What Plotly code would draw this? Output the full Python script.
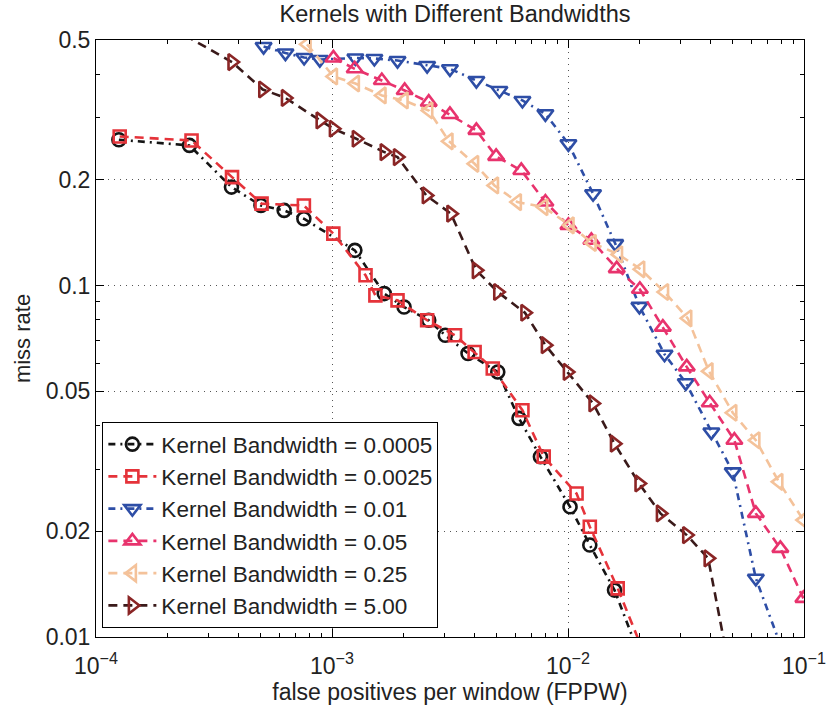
import plotly.graph_objects as go

# ---- data (x = FPPW, y = miss rate) ----
bw_labels = ["Kernel Bandwidth = 0.0005", "Kernel Bandwidth = 0.0025",
             "Kernel Bandwidth = 0.01", "Kernel Bandwidth = 0.05",
             "Kernel Bandwidth = 0.25", "Kernel Bandwidth = 5.00"]

x_0005 = [1.25e-4, 2.49e-4, 3.75e-4, 5.0e-4, 6.27e-4, 7.6e-4, 1.25e-3, 1.665e-3, 2.02e-3,
          2.57e-3, 3.02e-3, 3.77e-3, 5.04e-3, 6.2e-3, 7.64e-3, 1.02e-2, 1.237e-2, 1.574e-2, 2.046e-2]
y_0005 = [0.260, 0.2506, 0.1907, 0.169, 0.1637, 0.155, 0.126, 0.0949, 0.0869,
          0.0797, 0.0722, 0.0641, 0.0568, 0.0419, 0.0326, 0.02347, 0.01827, 0.0136, 0.0086]

x_0025 = [1.26e-4, 2.54e-4, 3.77e-4, 5.03e-4, 7.6e-4, 1.013e-3, 1.387e-3, 1.527e-3, 1.895e-3,
          2.53e-3, 3.32e-3, 4.02e-3, 4.8e-3, 6.41e-3, 7.89e-3, 1.087e-2, 1.237e-2, 1.624e-2, 2.156e-2]
y_0025 = [0.2658, 0.2588, 0.2036, 0.1711, 0.169, 0.1406, 0.107, 0.0938, 0.0908,
          0.0797, 0.0722, 0.0647, 0.0581, 0.0442, 0.0326, 0.0256, 0.0206, 0.01375, 0.0086]

x_001 = [5.13e-4, 6.35e-4, 7.62e-4, 8.88e-4, 1.256e-3, 1.512e-3, 1.895e-3, 2.53e-3, 3.16e-3,
         4.09e-3, 5.12e-3, 6.41e-3, 8.02e-3, 1.004e-2, 1.277e-2, 1.585e-2, 2.007e-2, 2.565e-2,
         3.155e-2, 4.05e-2, 4.99e-2, 6.25e-2, 8.39e-2]
y_001 = [0.479, 0.459, 0.446, 0.440, 0.4444, 0.443, 0.437, 0.423, 0.414,
         0.3834, 0.3592, 0.3365, 0.3083, 0.2533, 0.1826, 0.1317, 0.0873, 0.0638,
         0.0529, 0.0383, 0.0295, 0.01469, 0.0086]

x_005 = [1.014e-3, 1.248e-3, 1.626e-3, 2.032e-3, 2.57e-3, 3.16e-3, 4.09e-3, 4.96e-3, 6.34e-3,
         8.02e-3, 1.004e-2, 1.256e-2, 1.609e-2, 2.016e-2, 2.523e-2, 3.185e-2, 3.986e-2,
         5.07e-2, 6.25e-2, 7.94e-2, 9.94e-2]
y_005 = [0.4444, 0.414, 0.3834, 0.3592, 0.3327, 0.307, 0.2765, 0.2332, 0.2127,
         0.1729, 0.1484, 0.1346, 0.1118, 0.0976, 0.0762, 0.0587, 0.0464,
         0.0363, 0.02248, 0.01787, 0.01288]

x_025 = [7.84e-4, 1.014e-3, 1.256e-3, 1.629e-3, 2.02e-3, 2.57e-3, 3.13e-3, 4.02e-3, 4.88e-3,
         6.1e-3, 7.89e-3, 1.02e-2, 1.265e-2, 1.637e-2, 2.032e-2, 2.565e-2, 3.216e-2,
         3.955e-2, 4.99e-2, 6.25e-2, 7.82e-2, 9.94e-2]
y_025 = [0.486, 0.3937, 0.376, 0.3476, 0.3365, 0.315, 0.2575, 0.2222, 0.1928,
         0.1729, 0.1673, 0.1484, 0.1323, 0.1227, 0.1113, 0.0959, 0.0807,
         0.0571, 0.04347, 0.0363, 0.02764, 0.02151]

x_500 = [1.848e-4, 3.77e-4, 5.09e-4, 6.35e-4, 8.91e-4, 1.014e-3, 1.268e-3, 1.665e-3, 1.895e-3,
         2.51e-3, 3.19e-3, 4.09e-3, 5.04e-3, 6.57e-3, 8.02e-3, 9.94e-3, 1.277e-2,
         1.574e-2, 2.0e-2, 2.464e-2, 3.185e-2, 3.926e-2, 4.75e-2]
y_500 = [0.568, 0.4328, 0.3615, 0.342, 0.2951, 0.2795, 0.2618, 0.2399, 0.2321,
         0.1806, 0.1602, 0.1105, 0.0959, 0.0837, 0.0677, 0.0568, 0.0462,
         0.0355, 0.02735, 0.02248, 0.0195, 0.01674, 0.0086]

x_tickvals = [1e-4, 1e-3, 1e-2, 1e-1]
x_ticktext = ["10<sup>\u22124</sup>", "10<sup>\u22123</sup>", "10<sup>\u22122</sup>", "10<sup>\u22121</sup>"]
y_tickvals = [0.01, 0.02, 0.05, 0.1, 0.2, 0.5]
y_ticktext = ["0.01", "0.02", "0.05", "0.1", "0.2", "0.5"]

series = [
    (x_0005, y_0005, "#141414", "#141414", "circle-open", 13, "7px,5px,2px,5px"),
    (x_0025, y_0025, "#E5333A", "#E5333A", "square-open", 12, "9px,6px"),
    (x_001, y_001, "#2E4EA6", "#2E4EA6", "triangle-down-open", 14, "7px,5px,2px,5px"),
    (x_005, y_005, "#E8336D", "#E8336D", "triangle-up-open", 14, "9px,6px"),
    (x_025, y_025, "#F4C29A", "#F4C29A", "triangle-left-open", 14, "9px,6px"),
    (x_500, y_500, "#3A1A1A", "#8A2525", "triangle-right-open", 14, "9px,6px"),
]

FONT = "Liberation Sans, Arial, Helvetica, sans-serif"

fig = go.Figure()
for (xs, ys, lc, mc, sym, ms, dash), name in zip(series, bw_labels):
    fig.add_trace(go.Scatter(
        x=xs, y=ys, name=name, mode="lines+markers",
        line=dict(color=lc, width=2.6, dash=dash),
        marker=dict(symbol=sym, size=ms, color=mc, line=dict(color=mc, width=2.6)),
        cliponaxis=True,
    ))

axis_common = dict(
    type="log", showline=True, linecolor="black", linewidth=1, mirror="allticks",
    ticks="inside", ticklen=8, tickcolor="black", tickwidth=1,
    showgrid=True, gridcolor="#555555", gridwidth=1, griddash="1px,5px",
    zeroline=False, tickfont=dict(family=FONT, size=23, color="#222"),
)

fig.update_xaxes(
    **axis_common, range=[-4, -1], tickmode="array", tickvals=x_tickvals, ticktext=x_ticktext,
    ticklabelstandoff=8,
    minor=dict(ticks="inside", ticklen=4, tickcolor="black", dtick="D1", showgrid=False),
    title=dict(text="false positives per window (FPPW)", font=dict(family=FONT, size=23, color="#222"),
               standoff=2),
)
fig.update_yaxes(
    **axis_common, range=[-2, -0.30103], tickmode="array", tickvals=y_tickvals, ticktext=y_ticktext,
    minor=dict(ticks="inside", ticklen=4, tickcolor="black", dtick="D1", showgrid=False),
    title=dict(text="miss rate", font=dict(family=FONT, size=22, color="#222"), standoff=8),
)

fig.update_layout(
    width=838, height=711,
    margin=dict(l=96, r=24, t=40, b=74),
    paper_bgcolor="white", plot_bgcolor="white",
    title=dict(text="Kernels with Different Bandwidths", x=0.543, xanchor="center",
               y=0.981, yanchor="middle", yref="container",
               font=dict(family=FONT, size=23.5, color="#222")),
    legend=dict(x=0.009, y=0.015, xanchor="left", yanchor="bottom",
                bgcolor="white", bordercolor="black", borderwidth=1,
                font=dict(family=FONT, size=22.5, color="#222"),
                tracegroupgap=0, itemwidth=48),
    showlegend=True,
)

fig.write_html("out.html")
